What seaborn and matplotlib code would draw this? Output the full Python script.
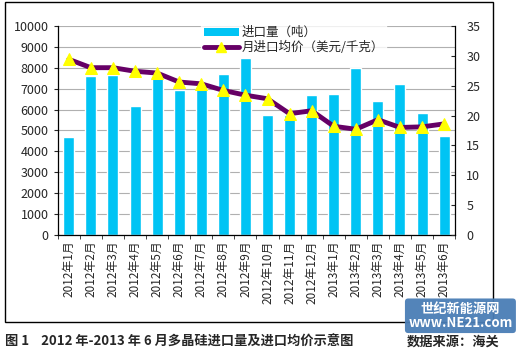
import numpy as np
import pandas as pd
import matplotlib.pyplot as plt
import seaborn as sns
from matplotlib.patches import Rectangle, Patch
from matplotlib.lines import Line2D

sns.set_style("white")
plt.rcParams['font.family'] = ['Noto Sans CJK SC', 'DejaVu Sans']

# data
months = ['2012年1月', '2012年2月', '2012年3月', '2012年4月', '2012年5月', '2012年6月',
          '2012年7月', '2012年8月', '2012年9月', '2012年10月', '2012年11月', '2012年12月',
          '2013年1月', '2013年2月', '2013年3月', '2013年4月', '2013年5月', '2013年6月']
volume = [4680, 7600, 7630, 6170, 7550, 6930, 7050, 7700, 8450, 5730, 5750, 6700,
          6750, 7970, 6430, 7230, 5850, 4750]
price = [29.4, 28.0, 28.0, 27.4, 27.1, 25.6, 25.3, 24.2, 23.4, 22.8, 20.3, 20.8,
         18.2, 17.7, 19.3, 18.0, 18.1, 18.6]

df = pd.DataFrame({'month': months, 'volume': volume, 'price': price})
df['pos'] = range(len(df))

bar_col = '#00c4f4'
line_col = '#660066'

fig = plt.figure(figsize=(5.25, 3.54), dpi=100)
ax = fig.add_axes([0.110, 0.336, 0.757, 0.591])

sns.barplot(data=df, x='month', y='volume', color=bar_col, width=0.5,
            saturation=1, ax=ax, zorder=2)
ax.set_ylim(0, 10000)
ax.set_yticks(range(0, 10001, 1000))
ax.yaxis.grid(True, color='#b0b0b0', lw=0.8)
ax.set_axisbelow(True)
ax.set_xlim(-0.5, len(df) - 0.5)
ax.set_xlabel('')
ax.set_ylabel('')
ax.tick_params(axis='y', labelsize=9, length=3, direction='out', left=True)
ax.tick_params(axis='x', labelsize=8.5, rotation=90, length=0, pad=4)
ax.set_xticks(np.arange(-0.5, len(df), 1), minor=True)
ax.tick_params(axis='x', which='minor', length=3, direction='out', bottom=True)
for s in ['left', 'bottom']:
    ax.spines[s].set_color('black')
    ax.spines[s].set_linewidth(0.9)
ax.spines['top'].set_visible(False)
ax.spines['right'].set_visible(False)

ax2 = ax.twinx()
sns.lineplot(data=df, x='pos', y='price', color=line_col, lw=3.5, marker='^',
             markersize=9, markerfacecolor='#ffff00', markeredgecolor='#ffff00',
             ax=ax2, zorder=3)
ax2.set_ylim(0, 35)
ax2.set_yticks(range(0, 36, 5))
ax2.set_ylabel('')
ax2.set_xlabel('')
ax2.tick_params(axis='y', labelsize=9, length=3, direction='in', right=True, pad=8)
ax2.spines['right'].set_color('black')
ax2.spines['right'].set_linewidth(0.9)
for s in ['top', 'left', 'bottom']:
    ax2.spines[s].set_visible(False)

handles = [Patch(facecolor=bar_col, edgecolor='none'),
           Line2D([0], [0], color=line_col, lw=3.5, marker='^', markersize=7,
                  markerfacecolor='#ffff00', markeredgecolor='#ffff00')]
leg = ax2.legend(handles, ['进口量（吨）', '月进口均价（美元/千克）'],
                 loc='upper left', bbox_to_anchor=(0.345, 0.99, 0.5, 0.05),
                 frameon=True, fontsize=9, handlelength=2.8, handleheight=0.6,
                 handletextpad=0.2, labelspacing=0.15, borderpad=0.2)
leg.get_frame().set_facecolor('white')
leg.get_frame().set_edgecolor('white')

# chart border
fig.patches.append(Rectangle((0.0095, 0.090), 0.930, 0.904, transform=fig.transFigure,
                             fill=False, edgecolor='black', lw=1.0))

# caption
fig.text(0.01, 0.036, '图 1    2012 年-2013 年 6 月多晶硅进口量及进口均价示意图',
         fontsize=9.5, fontweight='bold', va='center', ha='left')
fig.text(0.775, 0.036, '数据来源：海关', fontsize=9.5, fontweight='bold',
         va='center', ha='left')

# watermark
fig.text(0.877, 0.108, '世纪新能源网\nwww.NE21.com', fontsize=9.5, fontweight='bold',
         color='white', ha='center', va='center', linespacing=1.0,
         bbox=dict(boxstyle='round,pad=0.25', facecolor='#4a7db5', edgecolor='none', alpha=0.95))

fig.savefig('out.png', dpi=100)
